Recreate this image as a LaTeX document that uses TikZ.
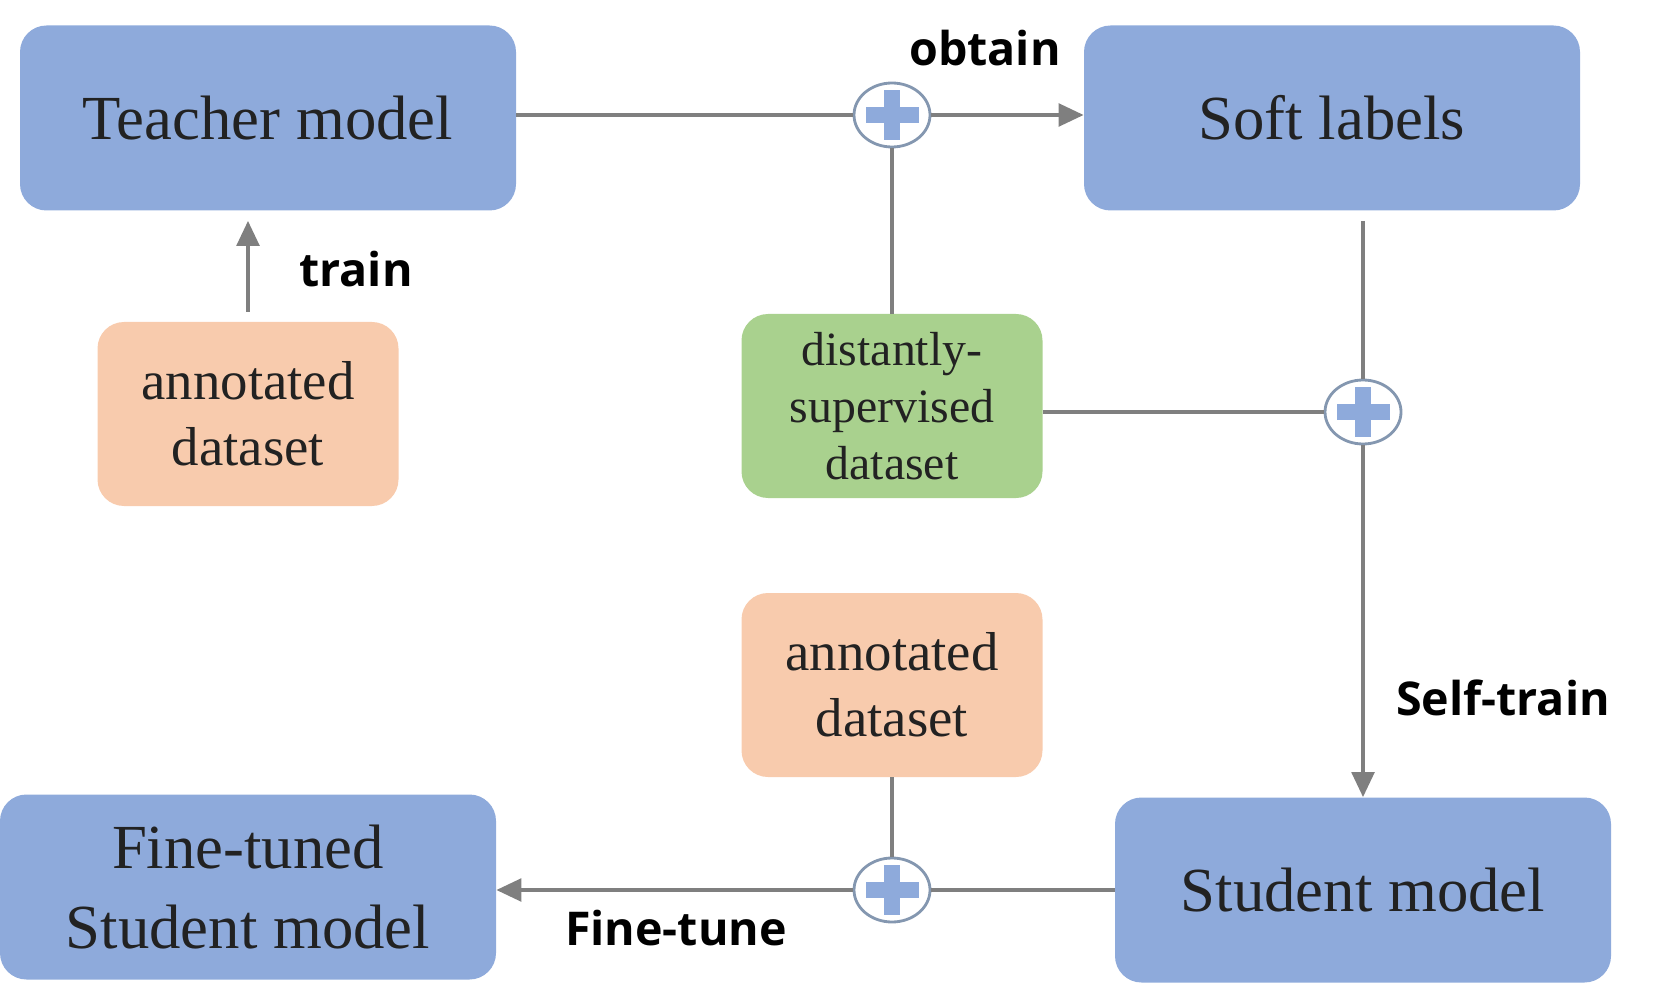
\documentclass[tikz,border=0pt]{standalone}
\usepackage{fontspec}
\setmainfont{Liberation Serif}
\newfontfamily\lblfont{Open Sans}
\usetikzlibrary{arrows.meta,shapes.geometric}
\definecolor{boxblue}{HTML}{8EAADB}
\definecolor{boxorange}{HTML}{F8CBAD}
\definecolor{boxgreen}{HTML}{A9D18E}
\definecolor{linegray}{HTML}{7F7F7F}
\definecolor{ringgray}{HTML}{8497B0}
\definecolor{textdark}{HTML}{222222}
\tikzset{
  model/.style={rounded corners=0.53cm, fill=boxblue, text=textdark, minimum width=9.92cm, minimum height=3.7cm, align=center, font=\fontsize{35.7}{45}\selectfont},
  data/.style={rounded corners=0.53cm, minimum width=6.02cm, minimum height=3.68cm, text=textdark, align=center},
  joint/.style={ellipse, draw=ringgray, line width=1.6pt, fill=white, minimum width=1.52cm, minimum height=1.28cm, inner sep=0pt},
  link/.style={draw=linegray, line width=2.2pt},
  flow/.style={link, -{Triangle[length=0.5cm,width=0.45cm]}},
  tag/.style={font=\lblfont\bfseries\fontsize{26.5}{32}\selectfont}
}
\begin{document}
\begin{tikzpicture}
    \useasboundingbox (0,0) rectangle (33.32,20.08);
    % boxes
    \node[model] (teacher) at (5.36,17.72) {Teacher model};
    \node[model] (soft) at (26.64,17.72) {Soft labels};
    \node[data, fill=boxorange, font=\fontsize{31.2}{37.4}\selectfont] (annotA) at (4.96,11.80) {annotated\\dataset};
    \node[data, fill=boxgreen, font=\fontsize{27.2}{32.3}\selectfont] (distant) at (17.84,11.96) {distantly-\\supervised\\dataset};
    \node[data, fill=boxorange, font=\fontsize{31.2}{37.4}\selectfont] (annotB) at (17.84,6.38) {annotated\\dataset};
    \node[model] (finetuned) at (4.96,2.34) {Fine-tuned\\Student model};
    \node[model] (student) at (27.26,2.28) {Student model};
    % joints
    \node[joint] (sumA) at (17.84,17.78) {};
    \node[joint] (sumB) at (27.26,11.84) {};
    \node[joint] (sumC) at (17.84,2.28) {};
    \foreach \s in {sumA,sumB,sumC} {
        \fill[boxblue] ([xshift=-0.53cm,yshift=-0.16cm]\s.center) rectangle ([xshift=0.53cm,yshift=0.16cm]\s.center);
        \fill[boxblue] ([xshift=-0.16cm,yshift=-0.5cm]\s.center) rectangle ([xshift=0.16cm,yshift=0.5cm]\s.center);
    }
    % connectors
    \draw[link] (teacher.east |- sumA) -- (sumA);
    \draw[flow] (sumA) -- (soft.west |- sumA);
    \draw[link] (sumA.south) -- (distant.north);
    \draw[link, shorten <=0.2cm] (soft.south -| sumB) -- (sumB);
    \draw[link] (distant.east |- sumB) -- (sumB);
    \draw[flow] (sumB) -- (student);
    \draw[link] (annotB) -- (sumC);
    \draw[link] (student) -- (sumC);
    \draw[flow] (sumC) -- (finetuned.east |- sumC);
    \draw[flow, shorten <=0.2cm, shorten >=0.2cm] (annotA) -- (teacher.south -| annotA);
    % labels
    \node[tag] (obtainlbl) at (19.70,19.12) {obtain};
    \node[tag] (trainlbl) at (7.12,14.70) {train};
    \node[tag] (selflbl) at (30.06,6.12) {Self-train};
    \node[tag] (tunelbl) at (13.52,1.52) {Fine-tune};
\end{tikzpicture}
\end{document}
